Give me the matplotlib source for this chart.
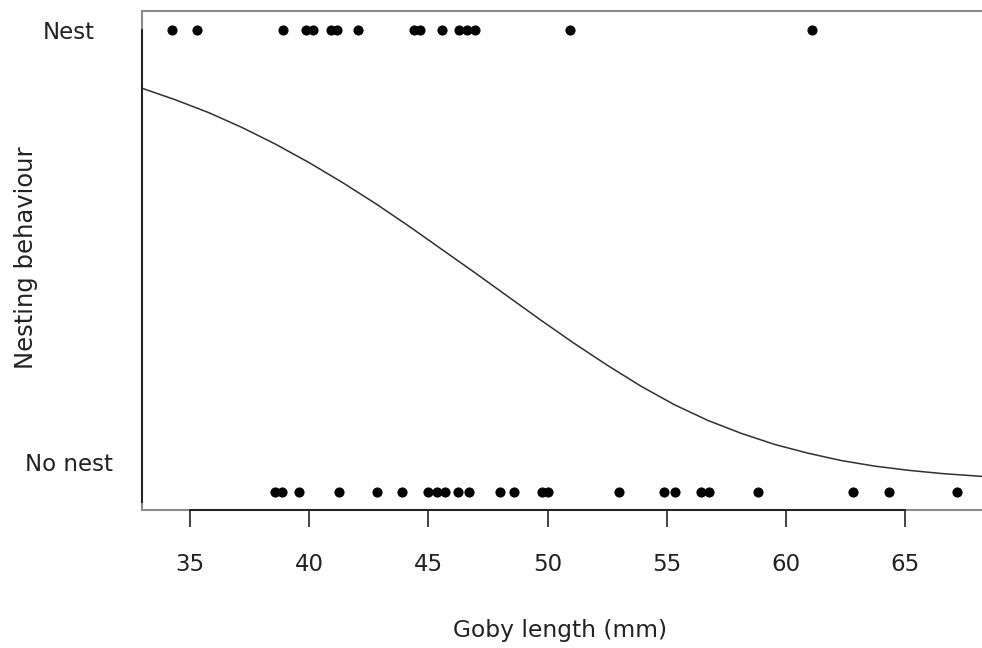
import matplotlib
matplotlib.use("Agg")
from matplotlib import pyplot as plt

# goby lengths (mm) of fish that built a nest / did not
nest_len = [34.24, 35.29, 38.91, 39.87, 40.17, 40.92, 41.18, 42.06, 44.41, 44.66,
            45.57, 46.27, 46.63, 46.97, 50.93, 61.1]
no_nest_len = [38.57, 38.87, 39.58, 41.26, 42.86, 43.91, 45.0, 45.38, 45.71, 46.22,
               46.68, 47.98, 48.57, 49.75, 50.0, 52.98, 54.87, 55.34, 56.43, 56.76,
               58.82, 62.82, 64.33, 67.18]

# fitted probability curve
curve_len = [32.98, 34.38, 35.79, 37.18, 38.58, 39.99, 41.39, 42.79, 44.19, 45.59,
             46.99, 48.39, 49.71, 51.10, 52.51, 53.91, 55.31, 56.71, 58.11, 59.51,
             60.91, 62.31, 63.71, 65.11, 66.51, 68.4]
curve_p = [0.874, 0.849, 0.821, 0.789, 0.753, 0.713, 0.670, 0.624, 0.575, 0.524,
           0.473, 0.421, 0.372, 0.322, 0.274, 0.229, 0.189, 0.155, 0.127, 0.103,
           0.084, 0.068, 0.056, 0.047, 0.040, 0.033]

x_ticks = [35, 40, 45, 50, 55, 60, 65]
y_tick_pos = [0.065, 1]
y_tick_labels = ['No nest', 'Nest']

plt.rcParams['font.family'] = ['DejaVu Sans']

fig = plt.figure(figsize=(9.82, 6.48), dpi=100)
# the plot box runs a little past the right edge of the picture
ax = fig.add_axes([142 / 982, 138 / 648, 845 / 982, 499 / 648])

ax.plot(nest_len, [1] * len(nest_len), 'o', color='black', ms=7.3, mec='none')
ax.plot(no_nest_len, [0] * len(no_nest_len), 'o', color='black', ms=7.3, mec='none')
ax.plot(curve_len, curve_p, color='#303030', lw=1.1)

ax.set_xlim(32.99, 68.42)
ax.set_ylim(-0.039, 1.041)

for s in ax.spines.values():
    s.set_color('#8a8a8a')
    s.set_linewidth(1.5)

# darker axis lines drawn over the box, like R's axis()
ax.plot([x_ticks[0], x_ticks[-1]], [-0.039, -0.039], color='#222222', lw=1.4,
        clip_on=False, zorder=4)
ax.plot([32.99, 32.99], [1, -0.022], color='#222222', lw=1.4, clip_on=False, zorder=4)

ax.set_xticks(x_ticks)
ax.tick_params(axis='x', length=12.2, width=1.2, color='#222222', pad=19,
               labelsize=16.5, labelcolor='#222222')
ax.set_yticks(y_tick_pos)
ax.set_yticklabels(y_tick_labels)
ax.tick_params(axis='y', length=0, pad=52.5, labelsize=16.5, labelcolor='#222222')
for lab in ax.get_yticklabels():
    lab.set_horizontalalignment('center')

fig.text(560 / 982, 1 - 631 / 648, 'Goby length (mm)', ha='center', va='center',
         fontsize=16.8, color='#222222')
fig.text(26 / 982, 1 - 258 / 648, 'Nesting behaviour', ha='center', va='center',
         rotation=90, fontsize=17.5, color='#222222')

fig.savefig('out.png', dpi=100)
